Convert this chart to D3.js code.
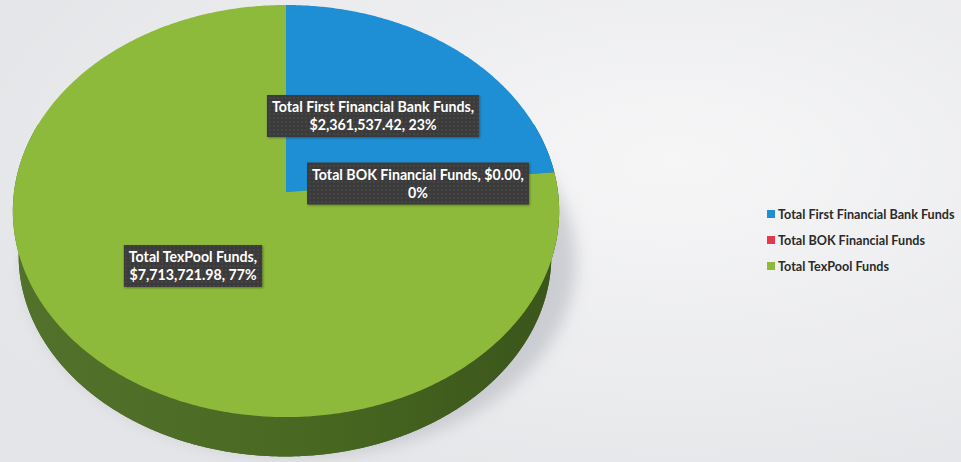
<!DOCTYPE html>
<html>
<head>
<meta charset="utf-8">
<script src="https://cdn.jsdelivr.net/npm/d3@7/dist/d3.min.js"></script>
<style>
  html, body { margin: 0; padding: 0; background: #eeeff1; }
  svg { display: block; }
</style>
</head>
<body>
<svg id="chart" width="961" height="462"></svg>
<script>
// ---------- data ----------
const categories = ["Total First Financial Bank Funds", "Total BOK Financial Funds", "Total TexPool Funds"];
const values = [2361537.42, 0.00, 7713721.98];
const sliceColors = ["#1e8fd4", "#e03a4c", "#8dba3a"];
const sideColors = ["#17639a", "#8a1f2b", "#4b6c22"];
// number of comma-separated parts placed on the first label line
const firstLineParts = [1, 2, 1];

// ---------- layout ----------
const W = 961, H = 462;
const cx = 286, cy = 192, sx = 272, sy = 204.3, k = 0.0923;
const bottomScale = 0.975, bottomDy = 45, bottomDx = -1;
const labelCenters = [[373, 116], [418, 183.5], [193, 266]];

const svg = d3.select("#chart");
const defs = svg.append("defs");

// background gradient (scanned paper look)
const bg = defs.append("radialGradient").attr("id", "bg").attr("cx", "70%").attr("cy", "35%").attr("r", "80%");
bg.append("stop").attr("offset", "0%").attr("stop-color", "#f6f6f7");
bg.append("stop").attr("offset", "100%").attr("stop-color", "#e4e5e8");
svg.append("rect").attr("width", W).attr("height", H).attr("fill", "url(#bg)");

// blur for shadow
const blur = defs.append("filter").attr("id", "blur").attr("x", "-20%").attr("y", "-20%").attr("width", "140%").attr("height", "140%");
blur.append("feGaussianBlur").attr("stdDeviation", 8);
const boxShadow = defs.append("filter").attr("id", "boxsh").attr("x", "-10%").attr("y", "-30%").attr("width", "120%").attr("height", "160%");
boxShadow.append("feDropShadow").attr("dx", 1).attr("dy", 1).attr("stdDeviation", 1.2).attr("flood-color", "#000").attr("flood-opacity", 0.35);

// dotted pattern for label boxes
const pat = defs.append("pattern").attr("id", "dots").attr("width", 4).attr("height", 4).attr("patternUnits", "userSpaceOnUse");
pat.append("rect").attr("width", 4).attr("height", 4).attr("fill", "#3a3a3a");
pat.append("circle").attr("cx", 2).attr("cy", 2).attr("r", 0.7).attr("fill", "#565656");

// side gradient
const sideGrad = defs.append("linearGradient").attr("id", "sideShade").attr("x1", "0").attr("x2", "1").attr("y1", "0").attr("y2", "0");
sideGrad.append("stop").attr("offset", "0%").attr("stop-color", "#fff").attr("stop-opacity", 0.04);
sideGrad.append("stop").attr("offset", "60%").attr("stop-color", "#000").attr("stop-opacity", 0.06);
sideGrad.append("stop").attr("offset", "100%").attr("stop-color", "#000").attr("stop-opacity", 0.22);

// ---------- projection ----------
function proj(a, face) {
  const X = Math.sin(a), Y = Math.cos(a);
  const w = 1 + k * Y;
  const m = face === "top" ? 1 : bottomScale;
  const ox = face === "top" ? 0 : bottomDx;
  const oy = face === "top" ? 0 : bottomDy;
  return [cx + ox + m * sx * X / w, cy + oy - m * sy * Y / w];
}
function arcPoints(a0, a1, face) {
  const n = Math.max(2, Math.ceil(Math.abs(a1 - a0) / (Math.PI / 360)));
  const pts = [];
  for (let i = 0; i <= n; i++) pts.push(proj(a0 + (a1 - a0) * i / n, face));
  return pts;
}
const line = d3.line().curve(d3.curveLinear);

const pie = d3.pie().sort(null).startAngle(0).endAngle(2 * Math.PI);
const arcs = pie(values).map((d, i) => ({ ...d, i }));
const total = d3.sum(values);

// ---------- shadow ----------
svg.append("ellipse")
  .attr("cx", cx + 14).attr("cy", cy + 70).attr("rx", sx + 4).attr("ry", sy - 10)
  .attr("fill", "#b4b7be").attr("opacity", 0.6).attr("filter", "url(#blur)");

const g = svg.append("g");

// bottom face
g.selectAll("path.bottom").data(arcs.filter(d => d.value > 0)).join("path")
  .attr("class", "bottom")
  .attr("d", d => {
    const c = [cx + bottomDx, cy + bottomDy];
    return line([c, ...arcPoints(d.startAngle, d.endAngle, "bottom"), c]) + "Z";
  })
  .attr("fill", d => sideColors[d.i]);

// side walls (front part)
const frontA0 = 70 * Math.PI / 180, frontA1 = 290 * Math.PI / 180;
g.selectAll("path.side").data(arcs.filter(d => d.value > 0)).join("path")
  .attr("class", "side")
  .attr("d", d => {
    const a0 = Math.max(d.startAngle, frontA0), a1 = Math.min(d.endAngle, frontA1);
    if (a1 <= a0) return null;
    const top = arcPoints(a0, a1, "top");
    const bot = arcPoints(a0, a1, "bottom").reverse();
    return line([...top, ...bot]) + "Z";
  })
  .attr("fill", d => sideColors[d.i]);

// shading over side
g.append("path")
  .attr("d", () => {
    const top = arcPoints(frontA0, frontA1, "top");
    const bot = arcPoints(frontA0, frontA1, "bottom").reverse();
    return line([...top, ...bot]) + "Z";
  })
  .attr("fill", "url(#sideShade)");

// top face
g.selectAll("path.top").data(arcs.filter(d => d.value > 0)).join("path")
  .attr("class", "top")
  .attr("d", d => line([[cx, cy], ...arcPoints(d.startAngle, d.endAngle, "top"), [cx, cy]]) + "Z")
  .attr("fill", d => sliceColors[d.i]);

// ---------- data labels ----------
const fmtMoney = d3.format("$,.2f");
const fmtPct = d3.format(".0%");
const labelFont = "Lato, 'Open Sans', sans-serif";
const lg = svg.append("g");
arcs.forEach((d, i) => {
  const parts = [categories[i], fmtMoney(values[i]), fmtPct(values[i] / total)];
  const n = firstLineParts[i];
  const lines = [
    parts.slice(0, n).join(", ") + ",",
    parts.slice(n).join(", ")
  ];
  const [lx, ly] = labelCenters[i];
  const grp = lg.append("g");
  const rect = grp.append("rect").attr("fill", "url(#dots)").attr("filter", "url(#boxsh)");
  const t = grp.append("text")
    .attr("text-anchor", "middle")
    .attr("font-family", labelFont)
    .attr("font-weight", "bold")
    .attr("font-size", 14.2)
    .attr("fill", "#ffffff");
  lines.forEach((s, j) => {
    t.append("tspan").attr("x", lx).attr("y", ly - 4 + j * 18).text(s);
  });
  const bb = t.node().getBBox();
  rect.attr("x", bb.x - 5).attr("y", ly - 21).attr("width", bb.width + 10).attr("height", 42);
});

// ---------- legend ----------
const legend = svg.append("g").attr("transform", "translate(767,0)");
const legendY = [214, 240, 266];
categories.forEach((c, i) => {
  legend.append("rect").attr("x", 0).attr("y", legendY[i] - 4).attr("width", 8).attr("height", 8).attr("fill", sliceColors[i]);
  legend.append("text").attr("x", 11).attr("y", legendY[i] + 4.5)
    .attr("font-family", labelFont).attr("font-weight", "bold").attr("font-size", 12.6)
    .attr("fill", "#2a2a2a").text(c);
});
</script>
</body>
</html>
